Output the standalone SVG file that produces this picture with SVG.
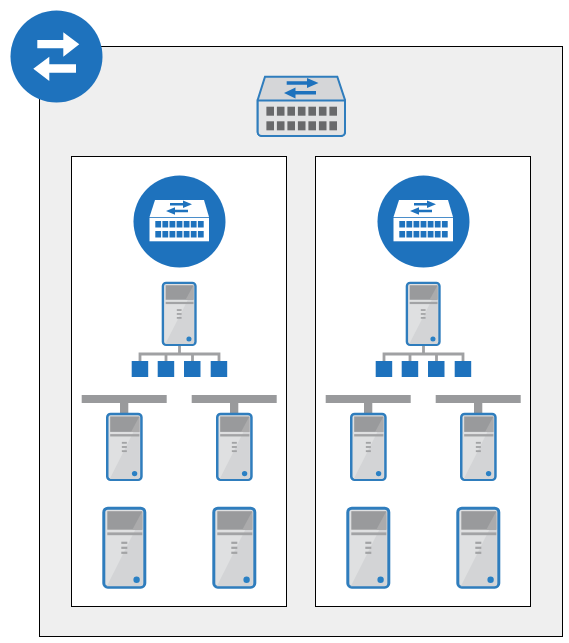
<svg xmlns="http://www.w3.org/2000/svg" xmlns:xlink="http://www.w3.org/1999/xlink" width="569" height="643" viewBox="0 0 569 643">
<style>
.frame{stroke:#000;stroke-width:1}
.blue{fill:#1e72bd}
.link{fill:#999a9c}
.wire{stroke:#a0a1a3;stroke-width:2.8;fill:none}
</style>
<defs>
<symbol id="tower" viewBox="0 0 44 82" width="44" height="82" overflow="visible">
<rect x="1.500" y="1.500" width="41" height="79" rx="4" fill="#dfe0e1" stroke="#2f7dbd" stroke-width="3"/>
<path d="M40.500 8 V77 a2.500 2.500 0 0 1 -2.500 2.500 H4.500 Z" fill="#d3d4d6"/>
<rect x="5" y="4.500" width="35" height="18.500" fill="#999a9c"/>
<path d="M40 4.500 V23 H30 Z" fill="#ababac"/>
<rect x="5" y="25.700" width="35" height="2.800" fill="#a2a3a5"/>
<rect x="19" y="35" width="6" height="2.200" fill="#a2a3a5"/>
<rect x="19" y="40" width="6" height="2.200" fill="#a2a3a5"/>
<rect x="19" y="45" width="6" height="2.200" fill="#a2a3a5"/>
<circle cx="34.300" cy="73" r="3.200" fill="#2a80c4"/>
</symbol>
<g id="cluster">
<rect class="frame" x="71.500" y="156.500" width="215" height="450" fill="#fff"/>
<g id="switch-badge">
<circle cx="179.500" cy="221.500" r="46" class="blue"/>
<path d="M155 200 H204 L209 217 H149.500 Z" fill="#fff"/>
<rect x="149.500" y="217.800" width="59.500" height="23.500" fill="#fff"/>
<g class="blue">
<rect x="155.300" y="221" width="5.800" height="6.500"/><rect x="162.400" y="221" width="5.800" height="6.500"/><rect x="169.500" y="221" width="5.800" height="6.500"/><rect x="176.600" y="221" width="5.800" height="6.500"/><rect x="183.700" y="221" width="5.800" height="6.500"/><rect x="190.800" y="221" width="5.800" height="6.500"/><rect x="197.900" y="221" width="5.800" height="6.500"/>
<rect x="155.300" y="231" width="5.800" height="6.500"/><rect x="162.400" y="231" width="5.800" height="6.500"/><rect x="169.500" y="231" width="5.800" height="6.500"/><rect x="176.600" y="231" width="5.800" height="6.500"/><rect x="183.700" y="231" width="5.800" height="6.500"/><rect x="190.800" y="231" width="5.800" height="6.500"/><rect x="197.900" y="231" width="5.800" height="6.500"/>
<path d="M170 203 H183 V200.500 L192 204.300 L183 208 V205.500 H170 Z"/>
<path d="M188 209.800 H175 V207.300 L166 211 L175 214.800 V212.300 H188 Z"/>
</g>
</g>
<use id="tower-main" xlink:href="#tower" href="#tower" transform="translate(161.700 281.700) scale(.795 .785)" width="44" height="82"/>
<g id="tree">
<path class="wire" d="M140 362 V354 H219 V362 M179.500 346 V354 M166 354 V362 M192.500 354 V362"/>
<rect class="blue" x="131.700" y="361" width="16.500" height="16"/>
<rect class="blue" x="157.700" y="361" width="16.500" height="16"/>
<rect class="blue" x="184" y="361" width="16.500" height="16"/>
<rect class="blue" x="210.700" y="361" width="16.500" height="16"/>
</g>
<g id="bar-left"><rect class="link" x="81.700" y="395" width="85" height="8"/><rect class="link" x="120" y="403" width="8.300" height="10"/></g>
<g id="bar-right"><rect class="link" x="191.700" y="395" width="85" height="8"/><rect class="link" x="230" y="403" width="8.300" height="10"/></g>
<use id="tower-mid-left" xlink:href="#tower" href="#tower" transform="translate(106 412.700) scale(.834 .834)" width="44" height="82"/>
<use id="tower-mid-right" xlink:href="#tower" href="#tower" transform="translate(216 412.700) scale(.834 .834)" width="44" height="82"/>
<use id="tower-low-left" xlink:href="#tower" href="#tower" transform="translate(102.300 506.700)" width="44" height="82"/>
<use id="tower-low-right" xlink:href="#tower" href="#tower" transform="translate(212.300 506.700)" width="44" height="82"/>
</g>
</defs>
<g id="zone">
<rect class="frame" x="39.500" y="46.500" width="523" height="590" fill="#efefef"/>
</g>
<g id="zone-badge">
<circle cx="56.500" cy="56.500" r="46" class="blue"/>
<path d="M37.300 40 H63.300 V32.300 L79.300 44.300 L63.300 56.700 V48.300 H37.300 Z" fill="#fff"/>
<path d="M76 64.300 H49.300 V56.700 L33.300 68.700 L49.300 81 V72.700 H76 Z" fill="#fff"/>
</g>
<g id="core-switch">
<path d="M265 76.700 H337.300 L345 100 V132 a4 4 0 0 1 -4 4 H261.700 a4 4 0 0 1 -4 -4 V100 Z" fill="#d5d6d8" stroke="#2f7dbd" stroke-width="2"/>
<path d="M257.700 100.500 H345 V132 a4 4 0 0 1 -4 4 H261.700 a4 4 0 0 1 -4 -4 Z" fill="#e2e3e4" stroke="#2f7dbd" stroke-width="2"/>
<g fill="#68696b">
<rect x="266.400" y="106.700" width="7.600" height="9"/><rect x="276.900" y="106.700" width="7.600" height="9"/><rect x="287.400" y="106.700" width="7.600" height="9"/><rect x="297.900" y="106.700" width="7.600" height="9"/><rect x="308.400" y="106.700" width="7.600" height="9"/><rect x="318.900" y="106.700" width="7.600" height="9"/><rect x="329.400" y="106.700" width="7.600" height="9"/>
<rect x="266.400" y="121.300" width="7.600" height="9"/><rect x="276.900" y="121.300" width="7.600" height="9"/><rect x="287.400" y="121.300" width="7.600" height="9"/><rect x="297.900" y="121.300" width="7.600" height="9"/><rect x="308.400" y="121.300" width="7.600" height="9"/><rect x="318.900" y="121.300" width="7.600" height="9"/><rect x="329.400" y="121.300" width="7.600" height="9"/>
</g>
<g class="blue">
<path d="M286.700 81.300 H307 V78 L318.500 83 L307 88 V84.700 H286.700 Z"/>
<path d="M316 91 H295.500 V87.500 L284 93 L295.500 98.500 V94.500 H316 Z"/>
</g>
</g>
<g id="cluster-left"><use xlink:href="#cluster" href="#cluster"/></g>
<g id="cluster-right"><use xlink:href="#cluster" href="#cluster" x="244"/></g>
</svg>
